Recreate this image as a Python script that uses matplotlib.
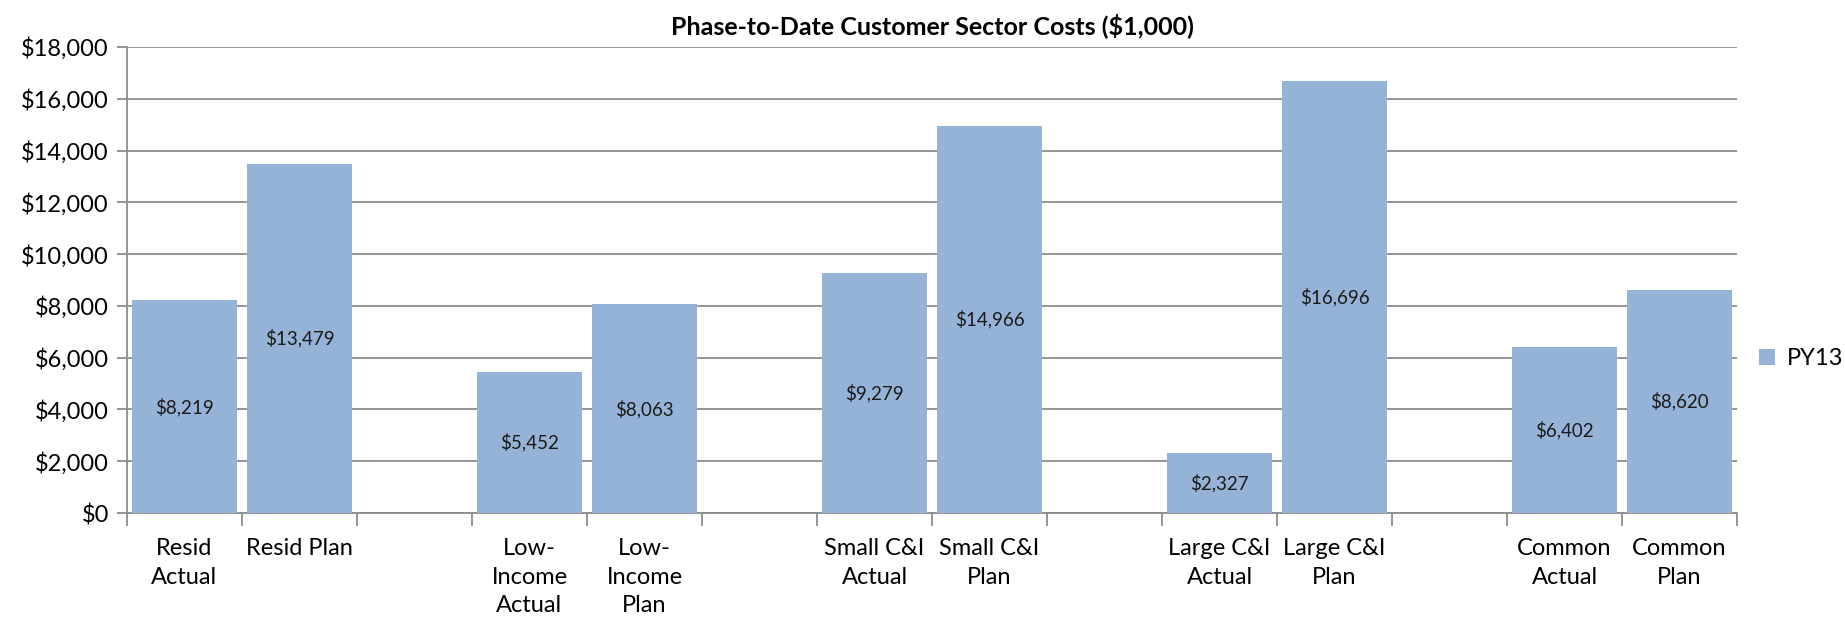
import numpy as np
import matplotlib.pyplot as plt
from matplotlib.ticker import FuncFormatter, MultipleLocator

plt.rcParams['font.family'] = ['Lato', 'DejaVu Sans']

# Data ($1,000)
sectors = ["Resid", "Low-Income", "Small C&I", "Large C&I", "Common"]
labels = ["Resid\nActual", "Resid Plan",
          "Low-\nIncome\nActual", "Low-\nIncome\nPlan",
          "Small C&I\nActual", "Small C&I\nPlan",
          "Large C&I\nActual", "Large C&I\nPlan",
          "Common\nActual", "Common\nPlan"]
actual = [8219, 5452, 9279, 2327, 6402]
plan = [13479, 8063, 14966, 16696, 8620]

values = []
for a, p in zip(actual, plan):
    values += [a, p]

# each sector takes three slots: actual, plan, empty
pos = []
for g in range(len(sectors)):
    pos += [3 * g + 0.5, 3 * g + 1.5]
pos = np.array(pos)

bar_color = "#95B3D7"
grid_color = "#8C8C8C"

fig = plt.figure(figsize=(18.45, 6.26), dpi=100)
ax = fig.add_axes([0.0688, 0.1805, 0.8727, 0.7445])

ax.bar(pos, values, width=0.91, color=bar_color, zorder=3, label="PY13")

for x, v in zip(pos, values):
    ax.text(x, v / 2, f"${v:,}", ha="center", va="center", fontsize=13.5,
            color="#1a1a1a", zorder=4)

ax.set_ylim(0, 18000)
ax.set_xlim(0, 3 * len(sectors) - 1)
ax.yaxis.set_major_locator(MultipleLocator(2000))
ax.yaxis.set_major_formatter(FuncFormatter(lambda v, _: f"${v:,.0f}"))
ax.grid(axis="y", color=grid_color, linewidth=1.3, zorder=0)

# tick marks at slot edges, labels at bar centres
ax.set_xticks(np.arange(0, 3 * len(sectors)))
ax.set_xticklabels([])
ax.set_xticks(pos, minor=True)
ax.set_xticklabels(labels, minor=True, fontsize=17, linespacing=1.45)
ax.tick_params(axis="x", which="major", length=9, width=1.3, color=grid_color)
ax.tick_params(axis="x", which="minor", length=0, pad=18)
ax.tick_params(axis="y", length=7, width=1.3, color=grid_color, labelsize=17, pad=6)

for side in ["top", "right"]:
    ax.spines[side].set_visible(False)
for side in ["left", "bottom"]:
    ax.spines[side].set_color(grid_color)
    ax.spines[side].set_linewidth(1.3)

ax.set_title("Phase-to-Date Customer Sector Costs ($1,000)", fontsize=18,
             fontweight="bold", pad=9)

fig.legend(loc="center left", bbox_to_anchor=(0.942, 0.427), frameon=False,
           fontsize=17, handlelength=0.65, handleheight=0.65, handletextpad=0.5)

fig.savefig("out.png", dpi=100)
